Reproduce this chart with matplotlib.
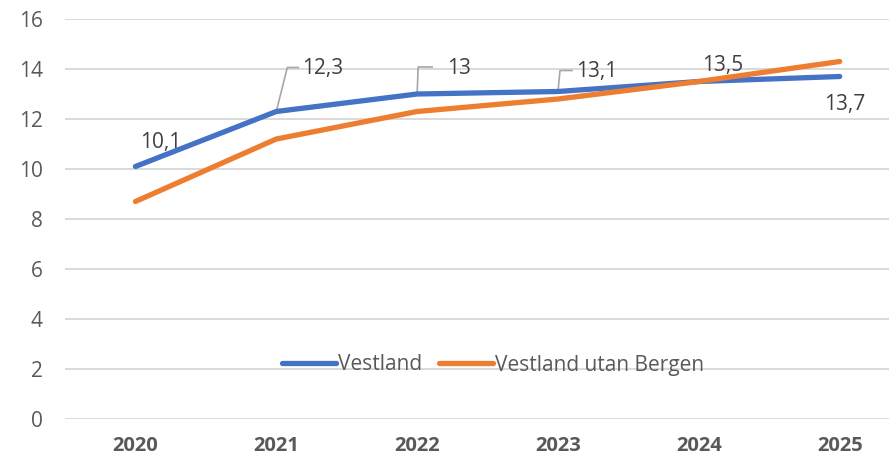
import matplotlib
matplotlib.use('Agg')
import matplotlib.pyplot as plt

years = ['2020', '2021', '2022', '2023', '2024', '2025']
vestland = [10.1, 12.3, 13.0, 13.1, 13.5, 13.7]
utan_bergen = [8.7, 11.2, 12.3, 12.8, 13.5, 14.3]
label_texts = ['10,1', '12,3', '13', '13,1', '13,5', '13,7']

plt.rcParams['font.family'] = ['Open Sans', 'DejaVu Sans']
text_color = '#595959'
grid_color = '#D9D9D9'

fig = plt.figure(figsize=(8.89, 4.58), dpi=100)
ax = fig.add_axes([65 / 889, 1 - 419 / 458, 1 - 65 / 889, 400 / 458])

x = list(range(len(years)))
ax.plot(x, vestland, color='#4472C4', lw=3.8, solid_capstyle='round', label='Vestland', zorder=3)
ax.plot(x, utan_bergen, color='#ED7D31', lw=3.8, solid_capstyle='round', label='Vestland utan Bergen', zorder=3)

ax.set_xlim(-0.5, 5.35)
ax.set_ylim(0, 16)
ax.set_yticks(range(0, 17, 2))
ax.set_xticks(x)
ax.set_xticklabels(years, fontweight='bold')
ax.yaxis.grid(True, color=grid_color, lw=1.4)
ax.set_axisbelow(True)
for s in ax.spines.values():
    s.set_visible(False)
ax.tick_params(axis='both', length=0, labelsize=15, colors=text_color)
ax.tick_params(axis='x', pad=12, labelsize=14.5)
ax.tick_params(axis='y', pad=16)

# data labels for Vestland (offsets in pixels), leader lines where Excel drew them
label_offsets = [(25, 24), (46, 43), (42, 25), (39, 20), (24, 16), (5, -28)]
leaders = {1: [(0, 0), (11, 44), (22, 44)],
           2: [(0, 0), (1, 27), (15, 27)],
           3: [(0, 0), (2, 21), (14, 21)]}
for i, v in enumerate(vestland):
    ax.annotate(label_texts[i], xy=(i, v), xytext=label_offsets[i], textcoords='offset pixels',
                ha='center', va='center', fontsize=15, color='#404040', zorder=4)

fig.canvas.draw()
for i, pts in leaders.items():
    bx, by = ax.transData.transform((i, vestland[i]))
    ax.plot([bx + p[0] for p in pts], [by + p[1] for p in pts], color='#A6A6A6', lw=1.2,
            transform=None, zorder=2, clip_on=False)

leg = ax.legend(loc='center', bbox_to_anchor=(493 / 889, 1 - 365 / 458), bbox_transform=fig.transFigure,
                ncol=2, frameon=False, fontsize=15, handlelength=2.6, handletextpad=0.1,
                columnspacing=0.8)
for t in leg.get_texts():
    t.set_color(text_color)

fig.savefig('out.png', dpi=100)
